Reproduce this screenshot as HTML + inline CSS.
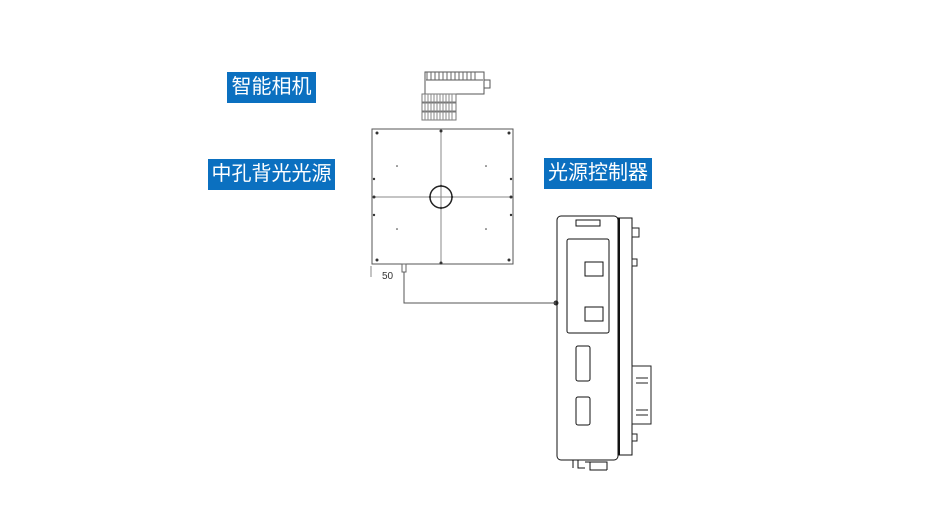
<!DOCTYPE html>
<html><head><meta charset="utf-8"><style>
body{margin:0;background:#fff;width:951px;height:520px;overflow:hidden;position:relative;font-family:"Liberation Sans","Noto Sans CJK SC",sans-serif}
.lb{position:absolute;background:#0b70c0;color:#fff;font-size:20px;line-height:31px;text-align:center;letter-spacing:0px}
svg{position:absolute;left:0;top:0}
</style></head><body>
<div class="lb" style="left:227px;top:72px;width:89px;">智能相机</div>
<div class="lb" style="left:208px;top:159px;width:127px;">中孔背光光源</div>
<div class="lb" style="left:544px;top:158px;width:108px;">光源控制器</div>
<svg width="951" height="520" viewBox="0 0 951 520" fill="none" stroke="#333" stroke-width="1">
<!-- camera -->
<rect x="425" y="72" width="59" height="22" stroke="#555"/>
<path d="M426 80 L483 80" stroke="#555"/>
<path d="M427 72 v8 M431 72 v8 M435 72 v8 M439 72 v8 M443 72 v8 M447 72 v8 M451 72 v8 M455 72 v8 M459 72 v8 M463 72 v8 M467 72 v8 M471 72 v8 M475 72 v8" stroke="#666"/>
<rect x="484" y="80" width="6" height="8" stroke="#555"/>
<rect x="422" y="94" width="34" height="26" stroke="#777"/>
<path d="M422 102 h34 M422 103 h34 M422 111 h34 M422 112 h34" stroke="#777"/>
<path d="M425 94 v26 M428 94 v26 M431 94 v26 M434 94 v26 M437 94 v26 M440 94 v26 M443 94 v26 M446 94 v26 M449 94 v26 M452 94 v26" stroke="#888"/>
<!-- light panel -->
<rect x="372" y="129" width="141" height="135" stroke="#555"/>
<path d="M372 197 H513 M441 129 V264" stroke="#888"/>
<circle cx="441" cy="197" r="11" stroke="#222" stroke-width="1.5"/>
<g fill="#333" stroke="none">
<circle cx="377" cy="133" r="1.5"/><circle cx="509" cy="133" r="1.5"/><circle cx="377" cy="260" r="1.5"/><circle cx="509" cy="260" r="1.5"/>
<circle cx="441" cy="131" r="1.5"/><circle cx="441" cy="263" r="1.5"/><circle cx="374" cy="197" r="1.5"/><circle cx="511" cy="197" r="1.5"/>
<circle cx="374" cy="179" r="1.2"/><circle cx="374" cy="215" r="1.2"/><circle cx="511" cy="179" r="1.2"/><circle cx="511" cy="215" r="1.2"/>
<circle cx="441" cy="186" r="1.2"/><circle cx="441" cy="208" r="1.2"/><circle cx="430" cy="197" r="1.2"/><circle cx="452" cy="197" r="1.2"/>
<circle cx="397" cy="166" r="0.8"/><circle cx="486" cy="166" r="0.8"/><circle cx="397" cy="229" r="0.8"/><circle cx="486" cy="229" r="0.8"/>
<circle cx="556" cy="303" r="2.5"/>
</g>
<path d="M371 266 V277" stroke="#888"/>
<text x="382" y="279" font-size="10" fill="#333" stroke="none" font-family="Liberation Sans">50</text>
<rect x="402" y="264" width="4" height="8" stroke="#666"/>
<path d="M404 272 V303 H556" stroke="#555"/>
<!-- controller -->
<rect x="557" y="216" width="61" height="244" rx="4" stroke="#111"/>
<rect x="618" y="218" width="14" height="237" stroke="#111"/>
<path d="M619 218 V455" stroke="#111" stroke-width="2"/>
<rect x="632" y="228" width="7" height="9" stroke="#222"/>
<rect x="632" y="259" width="5" height="7" stroke="#222"/>
<rect x="632" y="434" width="5" height="7" stroke="#222"/>
<rect x="632" y="366" width="19" height="58" stroke="#222"/>
<path d="M636 378 h12 M636 383 h12 M636 410 h12 M636 415 h12" stroke="#222"/>
<rect x="576" y="220" width="24" height="6" stroke="#111"/>
<rect x="567" y="239" width="42" height="94" rx="2" stroke="#111"/>
<rect x="585" y="262" width="18" height="14" stroke="#111"/>
<rect x="585" y="307" width="18" height="14" stroke="#111"/>
<rect x="576" y="346" width="14" height="35" rx="2" stroke="#111"/>
<rect x="576" y="397" width="14" height="28" rx="2" stroke="#111"/>
<path d="M573 460 v8 M578 460 v8 H585 M585 462 h22 v8 M590 462 v8 h17" stroke="#111"/>
</svg>
</body></html>
